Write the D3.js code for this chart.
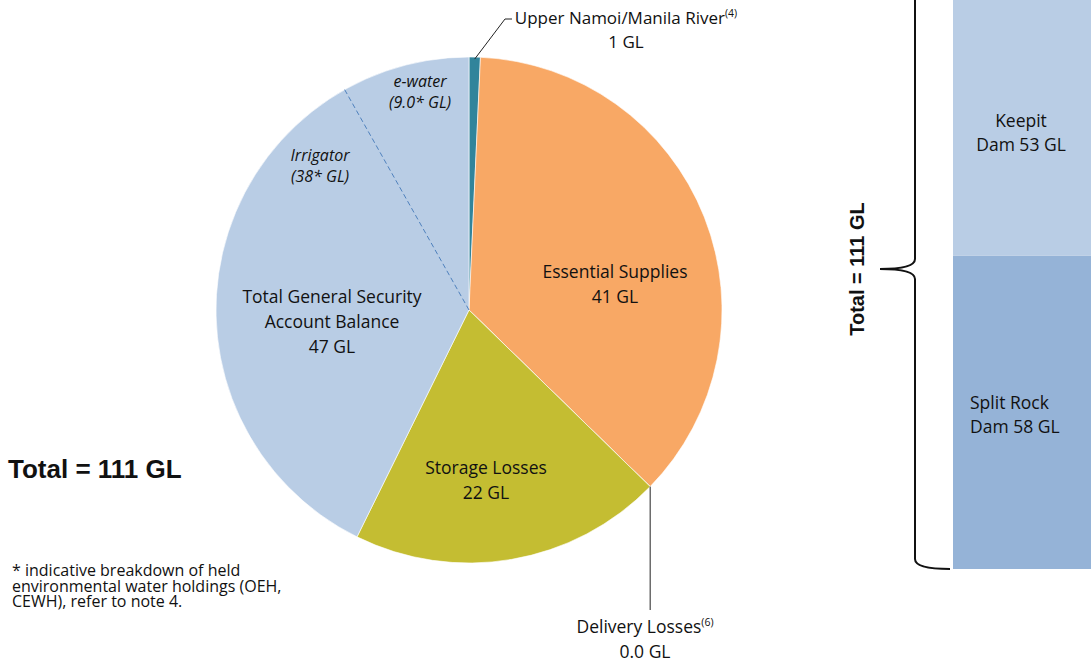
<!DOCTYPE html>
<html>
<head>
<meta charset="utf-8">
<script src="https://cdn.jsdelivr.net/npm/d3@7"></script>
<style>
  body { margin: 0; background: #fff; }
  svg { display: block; }
  text { font-family: "Open Sans", "Noto Sans", sans-serif; fill: #111; }
</style>
</head>
<body>
<svg id="chart" width="1091" height="663"></svg>
<script>
// données (valeurs estimées d'après les angles, libellés arrondis)
var sliceNames  = ["Upper Namoi/Manila River", "Essential Supplies", "Delivery Losses", "Storage Losses", "Total General Security Account Balance"];
var sliceValues = [0.8, 40.6, 0.0, 22.2, 47.4];
var sliceColors = ["#31849b", "#f8a865", "#f79646", "#c4bd32", "#b9cde5"];

var gsNames  = ["Irrigator", "e-water"];
var gsValues = [38, 9];

var damNames  = ["Split Rock", "Keepit"];
var damValues = [58, 53];
var damColors = ["#95b3d7", "#b9cde5"];

var fmt0 = d3.format(".0f"), fmt1 = d3.format(".1f");

var svg = d3.select("#chart");

// ---------- camembert ----------
var cx = 469, cy = 310, R = 253;
var pie = d3.pie().sort(null).value(d => d);
var arcs = pie(sliceValues);
var arc = d3.arc().innerRadius(0).outerRadius(R);

var gPie = svg.append("g").attr("transform", "translate(" + cx + "," + cy + ")");

gPie.selectAll("path")
  .data(arcs)
  .enter()
  .append("path")
  .attr("d", arc)
  .style("fill", (d, i) => sliceColors[i])
  .style("stroke", "#fff")
  .style("stroke-width", 0.6);

// séparation irrigateurs / e-water (ligne pointillée)
var gs = arcs[4];
var splitAngle = gs.startAngle + (gs.endAngle - gs.startAngle) * gsValues[0] / d3.sum(gsValues);
gPie.append("line")
  .attr("x1", 0).attr("y1", 0)
  .attr("x2", R * Math.sin(splitAngle))
  .attr("y2", -R * Math.cos(splitAngle))
  .style("stroke", "#4f81bd")
  .style("stroke-width", 1)
  .style("stroke-dasharray", "5,3");

// étiquette multi-lignes ; une ligne [texte, exposant] ajoute un exposant
function label(x, y, lines, opts) {
  opts = opts || {};
  var lh = opts.lh || 25;
  var t = svg.append("text")
    .attr("x", x).attr("y", y)
    .attr("text-anchor", opts.anchor || "middle")
    .style("font-size", (opts.size || 17.5) + "px")
    .style("font-style", opts.italic ? "italic" : "normal");
  var shift = 0;
  lines.forEach(function(l, i) {
    var ts = t.append("tspan").attr("x", x).attr("dy", i === 0 ? 0 : lh + shift);
    shift = 0;
    if (typeof l === "string") ts.text(l);
    else {
      ts.text(l[0]);
      t.append("tspan").attr("dy", -7).style("font-size", "10.5px").text(l[1]);
      shift = 7;
    }
  });
  return t;
}

function at(a, r) {
  return [cx + r * Math.sin(a), cy - r * Math.cos(a)];
}

// Upper Namoi (étiquette externe)
var aU = (arcs[0].startAngle + arcs[0].endAngle) / 2;
var pU = at(aU, R - 2);
svg.append("polyline")
  .attr("points", [pU, [505, 19], [512, 19]].map(p => p.join(",")).join(" "))
  .style("fill", "none").style("stroke", "#222").style("stroke-width", 1);
label(626, 24, [[sliceNames[0], "(4)"], fmt0(sliceValues[0]) + " GL"], {lh: 24, size: 17});

// Essential Supplies
label(615, 278, [sliceNames[1], fmt0(sliceValues[1]) + " GL"]);

// Storage Losses
label(486, 474, [sliceNames[3], fmt0(sliceValues[3]) + " GL"]);

// Total General Security
label(332, 303, ["Total General Security", "Account Balance", fmt0(sliceValues[4]) + " GL"]);

// Irrigator / e-water
label(320, 161, [gsNames[0], "(" + gsValues[0] + "* GL)"], {italic: true, size: 16, lh: 21});
label(420, 87, [gsNames[1], "(" + fmt1(gsValues[1]) + "* GL)"], {italic: true, size: 16, lh: 21});

// Delivery Losses (étiquette externe)
var pD = at(arcs[2].startAngle, R);
svg.append("line")
  .attr("x1", pD[0]).attr("y1", pD[1])
  .attr("x2", pD[0]).attr("y2", 610)
  .style("stroke", "#222").style("stroke-width", 1);
label(645, 633, [["Delivery Losses", "(6)"], fmt1(sliceValues[2]) + " GL"], {lh: 25});

// total
svg.append("text")
  .attr("x", 8).attr("y", 478)
  .style("font-family", "'Liberation Sans', Arial, sans-serif")
  .style("font-weight", "bold")
  .style("font-size", "26px")
  .text("Total = " + fmt0(d3.sum(sliceValues)) + " GL");

// note de bas de page
label(12, 576, ["* indicative breakdown of held", "environmental water holdings (OEH,", "CEWH), refer to note 4."], {anchor: "start", size: 16, lh: 15.5});

// ---------- barre empilée des barrages ----------
var total = d3.sum(damValues);
var yBar = d3.scaleLinear().domain([0, total]).range([569, -31]);
var bx = 953, bw = 140;

var stack = d3.cumsum(damValues);
svg.selectAll("rect.dam")
  .data(damValues)
  .enter()
  .append("rect")
  .attr("class", "dam")
  .attr("x", bx)
  .attr("width", bw)
  .attr("y", (d, i) => yBar(stack[i]))
  .attr("height", d => yBar(0) - yBar(d))
  .style("fill", (d, i) => damColors[i]);

label(1021, 127, ["Keepit", "Dam " + damValues[1] + " GL"], {size: 17.5, lh: 24});
label(970, 409, [damNames[0], "Dam " + damValues[0] + " GL"], {anchor: "start", size: 17.5, lh: 24});

// accolade
var yTop = yBar(total), yBot = yBar(0), yMid = yBar(total / 2);
var xv = 915, xTip = 880, xEnd = 950;
var brace = d3.path();
brace.moveTo(xEnd, yTop);
brace.quadraticCurveTo(xv, yTop, xv, yTop + 10);
brace.lineTo(xv, yMid - 10);
brace.quadraticCurveTo(xv, yMid, xTip, yMid);
brace.quadraticCurveTo(xv, yMid, xv, yMid + 10);
brace.lineTo(xv, yBot - 10);
brace.quadraticCurveTo(xv, yBot, xEnd, yBot);
svg.append("path")
  .attr("d", brace.toString())
  .style("fill", "none").style("stroke", "#111").style("stroke-width", 2);

svg.append("text")
  .attr("transform", "translate(864," + yMid + ") rotate(-90)")
  .attr("text-anchor", "middle")
  .style("font-family", "'Liberation Sans', Arial, sans-serif")
  .style("font-weight", "bold")
  .style("font-size", "20px")
  .text("Total = " + total + " GL");
</script>
</body>
</html>
